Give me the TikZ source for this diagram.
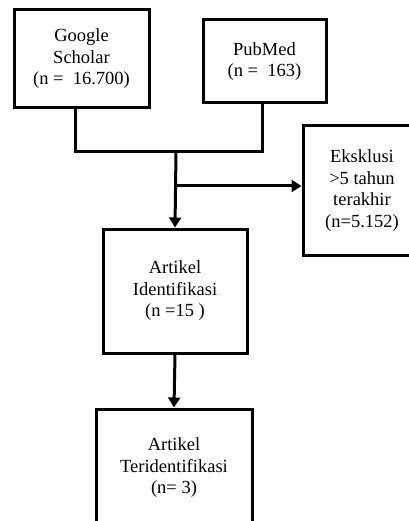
\documentclass[tikz,border=0pt]{standalone}
\usepackage{fontspec}
\setmainfont{Liberation Serif}
\usetikzlibrary{arrows.meta}
\begin{document}
\begin{tikzpicture}[x=1pt,y=-1pt,line width=3pt,
  box/.style={draw,align=center,inner sep=0pt,font=\fontsize{18.5}{21.5}\selectfont},
  arr/.style={-{Triangle[width=12pt,length=10pt]}}]
\useasboundingbox (0,0) rectangle (408,521);
\node[box,minimum width=135pt,minimum height=98pt] (gs) at (81.5,59) {Google\\Scholar\\(n = \ 16.700)};
\node[box,minimum width=123pt,minimum height=83pt] (pub) at (264.5,61.5) {PubMed\\(n = \ 163)};
\node[box,minimum width=118pt,minimum height=129pt] (eks) at (362,190.5) {Eksklusi\\>5 tahun\\terakhir\\(n=5.152)};
\node[box,minimum width=144pt,minimum height=124pt] (ident) at (175,291) {Artikel\\Identifikasi\\(n =15 )};
\node[box,minimum width=156pt,minimum height=118pt] (terid) at (174,468) {Artikel\\Teridentifikasi\\(n= 3)};

\coordinate (merge) at (176,152);
\coordinate (split) at (176,186);
\draw ([xshift=-6.5pt]gs.south) |- (merge) -| ([xshift=-2.5pt]pub.south);
\draw[arr] (merge) -- (ident.north);
\draw[arr] (split) -- (split -| eks.west);
\draw[arr] (ident.south) -- (terid.north);
\end{tikzpicture}
\end{document}
